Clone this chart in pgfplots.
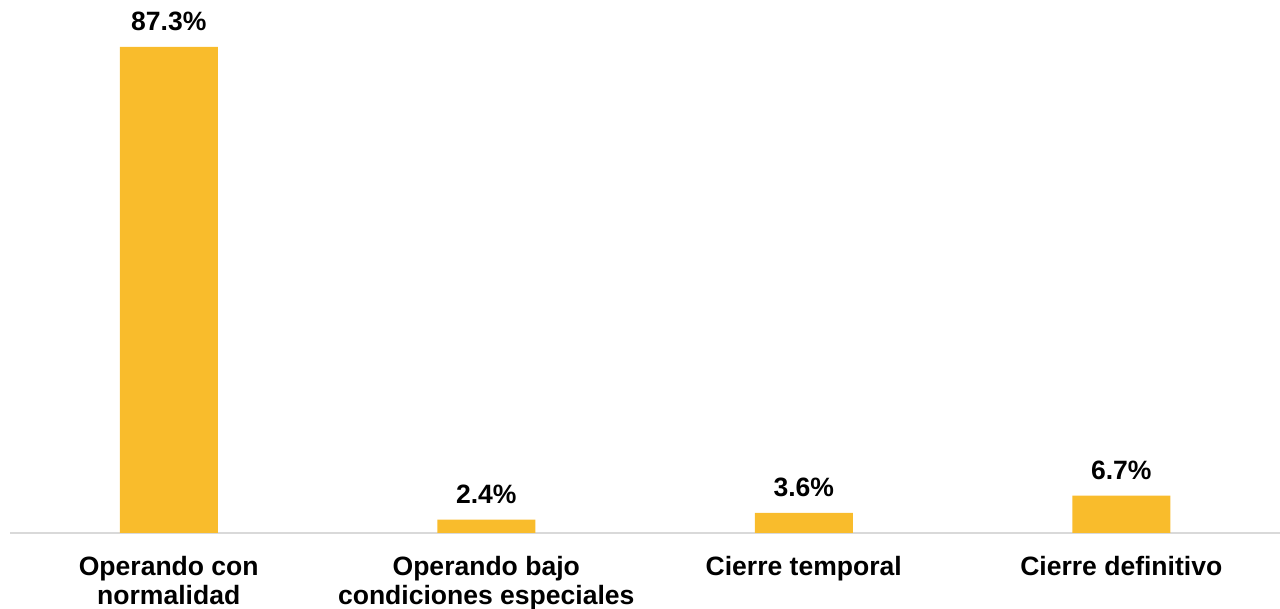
\documentclass[border=0pt]{standalone}
\usepackage{pgfplots}
\pgfplotsset{compat=1.18}
\usepackage{fontspec}
\setmainfont{Liberation Sans}
\definecolor{barra}{HTML}{F9BC2C}
\definecolor{eje}{HTML}{D9D9D9}
\begin{document}
\begin{tikzpicture}
\begin{axis}[
  at={(0,0)}, anchor=south west,
  scale only axis,
  width=952.5pt, height=399.75pt,
  xmin=-0.5, xmax=3.5,
  ymin=0, ymax=95.74,
  axis y line=none,
  axis x line*=bottom,
  x axis line style={draw=eje, line width=1.5pt, -},
  xtick=data,
  major tick length=0pt,
  xticklabels={{Operando con\\normalidad},{Operando bajo\\condiciones especiales},{Cierre temporal},{Cierre definitivo}},
  xticklabel style={font=\fontsize{19.9}{21.75}\selectfont\bfseries, align=center, anchor=north, yshift=-14pt},
  ybar, bar width=73.5pt,
  clip=false,
  /pgf/number format/assume math mode=true,
  nodes near coords={\pgfmathprintnumber[fixed,precision=1,fixed zerofill]{\pgfplotspointmeta}\%},
  nodes near coords style={font=\fontsize{19.9}{21}\selectfont\bfseries, anchor=south, inner sep=0pt, yshift=12pt},
]
\addplot[fill=barra, draw=none] coordinates {(0,87.3) (1,2.4) (2,3.6) (3,6.7)};
\end{axis}
\pgfresetboundingbox
\path (-7.5pt,-57pt) rectangle (952.5pt,399.75pt);
\end{tikzpicture}
\end{document}
